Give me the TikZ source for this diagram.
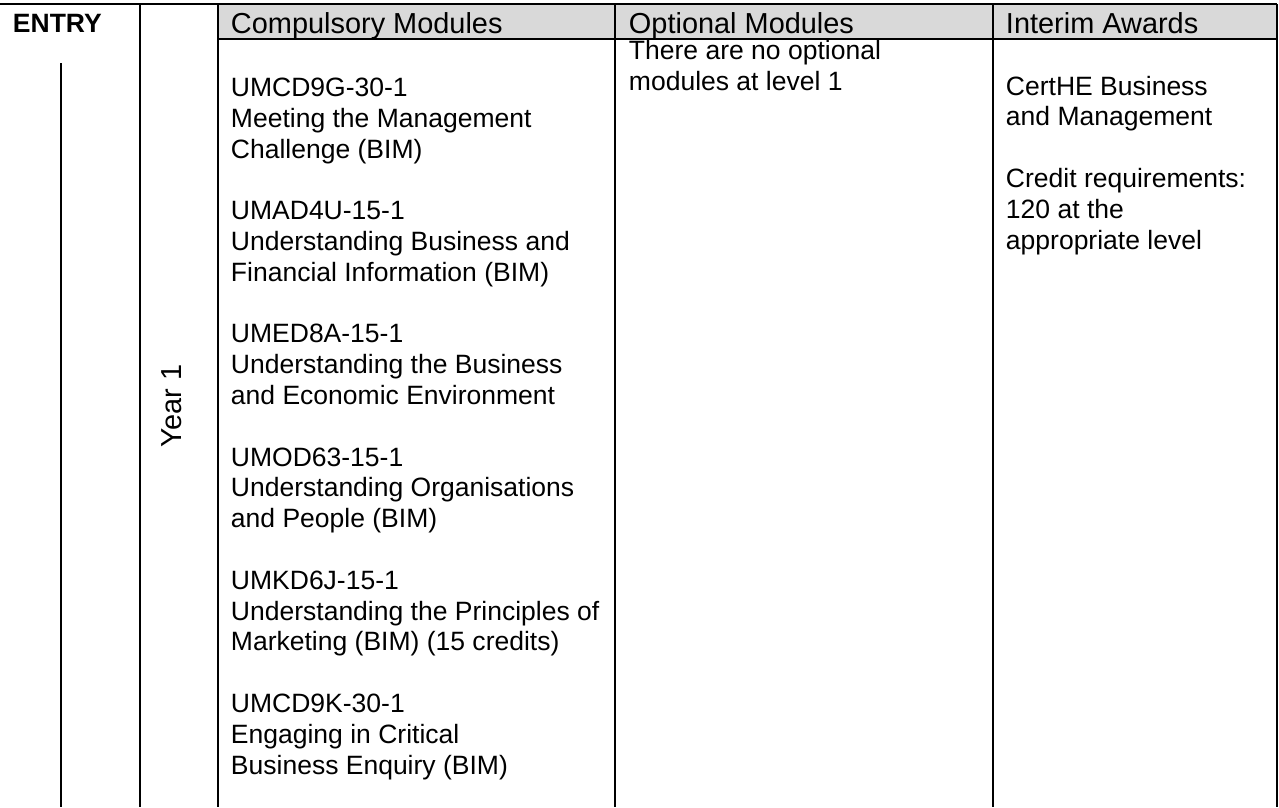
\documentclass[tikz,border=0pt]{standalone}
\usepackage{fontspec}
\setmainfont{Liberation Sans}
\begin{document}
\begin{tikzpicture}[x=0.415pt, y=-0.415pt, line width=0.8pt,
	cell/.style={anchor=base west, inner sep=0pt, align=left, font=\fontsize{11}{12.78}\selectfont},
	head/.style={anchor=base west, inner sep=0pt, font=\fontsize{12}{14}\selectfont}]
	\useasboundingbox (0,0) rectangle (1279,807);

	%header row
	\fill[black!15] (218,4) rectangle (1277,39);
	\draw (0,4) -- (1277,4);
	\draw (218,39) -- (1277,39);

	%columns
	\draw (140,4) -- (140,807);
	\draw (218,4) -- (218,807);
	\draw (615,4) -- (615,807);
	\draw (993,4) -- (993,807);
	\draw (1277,4) -- (1277,807);

	%entry
	\node[head, font=\bfseries\fontsize{11}{12.78}\selectfont] (entry) at (12,32) {ENTRY};
	\coordinate (entry top) at (61,63);
	\coordinate (entry bottom) at (61,807);
	\draw (entry top) -- (entry bottom);
	\node[rotate=90, inner sep=0pt, font=\fontsize{12}{14}\selectfont] (year) at (172,406) {Year 1};

	%headings
	\node[head] (compulsory) at (230,33) {Compulsory Modules};
	\node[head] (optional) at (628,33) {Optional Modules};
	\node[head] (awards) at (1005,33) {Interim Awards};

	%cells (base = last line)
	\node[cell] (modules) at (230,774) {UMCD9G-30-1\\ Meeting the Management\\ Challenge (BIM)\\[12.78pt]
		UMAD4U-15-1\\ Understanding Business and\\ Financial Information (BIM)\\[12.78pt]
		UMED8A-15-1\\ Understanding the Business\\ and Economic Environment\\[12.78pt]
		UMOD63-15-1\\ Understanding Organisations\\ and People (BIM)\\[12.78pt]
		UMKD6J-15-1\\ Understanding the Principles of\\ Marketing (BIM) (15 credits)\\[12.78pt]
		UMCD9K-30-1\\ Engaging in Critical\\ Business Enquiry (BIM)};
	\node[cell] (no options) at (628,90) {There are no optional\\ modules at level 1};
	\node[cell] (certhe) at (1005,249) {CertHE Business\\ and Management\\[12.78pt]
		Credit requirements:\\ 120 at the\\ appropriate level};
\end{tikzpicture}
\end{document}
